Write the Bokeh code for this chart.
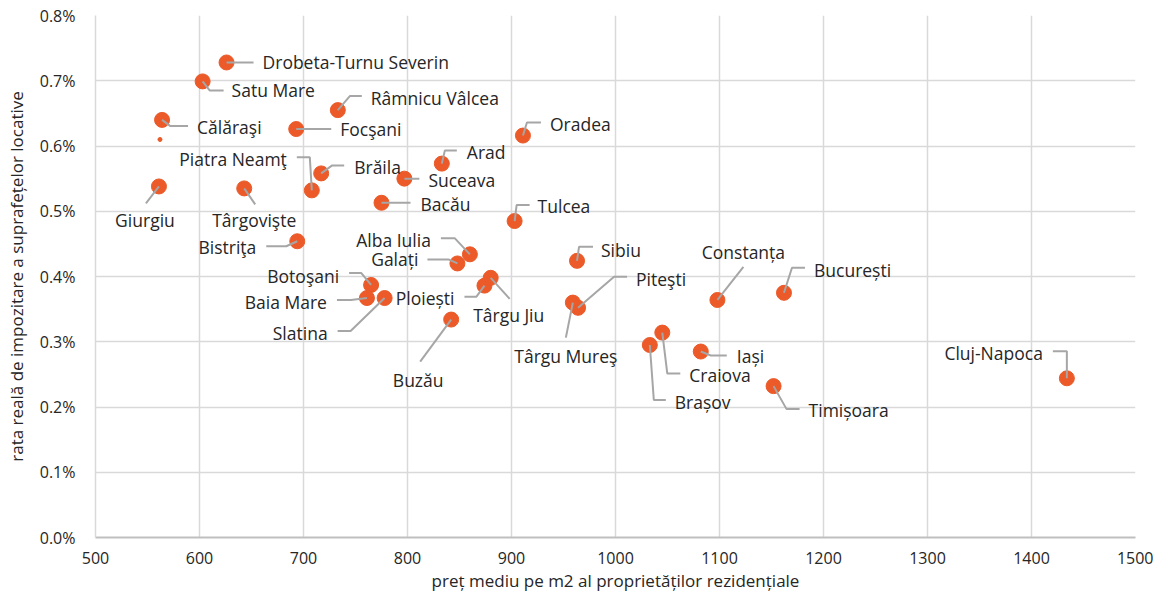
from bokeh.plotting import figure
from bokeh.models import FixedTicker, PrintfTickFormatter, Range1d, ColumnDataSource
from bokeh.core.properties import value
from bokeh.embed import file_html
from bokeh.resources import INLINE

# ---------------- data ----------------
cities = ["Drobeta-Turnu Severin", "Satu Mare", "Călăraşi", "Giurgiu", "Târgovişte",
          "Focşani", "Râmnicu Vâlcea", "Brăila", "Piatra Neamţ", "Bistriţa",
          "Suceava", "Bacău", "Arad", "Oradea", "Tulcea", "Alba Iulia", "Galați",
          "Sibiu", "Botoşani", "Baia Mare", "Slatina", "Ploiești", "Târgu Jiu",
          "Buzău", "Târgu Mureş", "Piteşti", "Constanța", "București", "Craiova",
          "Brașov", "Iași", "Timișoara", "Cluj-Napoca"]
price = [626, 603, 564, 561, 643, 693, 733, 717, 708, 694,
         797, 775, 833, 911, 903, 860, 848, 963, 765, 761, 778, 874, 880,
         842, 959, 964, 1098, 1162, 1045, 1033, 1082, 1152, 1434]
rate = [0.728, 0.699, 0.640, 0.538, 0.535, 0.626, 0.655, 0.558, 0.532, 0.454,
        0.550, 0.513, 0.573, 0.616, 0.485, 0.434, 0.420, 0.424, 0.387, 0.367,
        0.367, 0.386, 0.398, 0.334, 0.360, 0.352, 0.364, 0.375, 0.314, 0.295,
        0.285, 0.232, 0.244]
# small stray marker near Călăraşi
extra_price = [562]
extra_rate = [0.610]

x_ticks = [500, 600, 700, 800, 900, 1000, 1100, 1200, 1300, 1400, 1500]
y_ticks = [0.0, 0.1, 0.2, 0.3, 0.4, 0.5, 0.6, 0.7, 0.8]

# ---------------- label layout (screen px offsets) ----------------
label_layout = [
    (36, 0, "left", [(0, 0), (27, 0)]),
    (29, 9, "left", [(0, 0), (7, 9), (21, 9)]),
    (35, 7, "left", [(0, 0), (8, 6), (26, 6)]),
    (-14, 34, "center", [(0, 0), (-13, 17)]),
    (10, 32, "center", [(0, 0), (11, 16)]),
    (44, 0, "left", [(0, 0), (35, 0)]),
    (33, -12, "left", [(0, 0), (12, -14), (24, -14)]),
    (33, -6, "left", [(0, 0), (11, -8), (23, -8)]),
    (-25, -31, "right", [(0, 0), (-2, -33), (-15, -33)]),
    (-41, 6, "right", [(0, 0), (-11, 5), (-31, 5)]),
    (24, 1, "left", [(0, 0), (15, 0)]),
    (39, 1, "left", [(0, 0), (29, 0)]),
    (25, -12, "left", [(0, 0), (3, -13), (15, -13)]),
    (27, -12, "left", [(0, 0), (4, -13), (18, -13)]),
    (23, -15, "left", [(0, 0), (2, -16), (15, -16)]),
    (-39, -14, "right", [(0, 0), (-15, -16), (-29, -16)]),
    (-39, -4, "right", [(0, 0), (-9, -4), (-30, -4)]),
    (24, -11, "left", [(0, 0), (2, -14), (16, -14)]),
    (-32, -9, "right", [(0, 0), (-10, -12), (-22, -12)]),
    (-40, 4, "right", [(0, 0), (-16, 2), (-30, 2)]),
    (-57, 35, "right", [(0, 0), (-34, 33), (-47, 33)]),
    (-30, 12, "right", [(0, 0), (-8, 11), (-20, 11)]),
    (18, 37, "center", [(0, 0), (19, 21)]),
    (-33, 60, "center", [(0, 0), (-31, 42)]),
    (-7, 53, "center", [(0, 0), (-7, 35)]),
    (58, -29, "left", [(0, 0), (36, -31), (49, -31)]),
    (26, -48, "center", [(0, 0), (26, -33)]),
    (30, -23, "left", [(0, 0), (8, -25), (21, -25)]),
    (27, 42, "left", [(0, 0), (5, 41), (18, 41)]),
    (25, 57, "left", [(0, 0), (4, 55), (16, 55)]),
    (36, 4, "left", [(0, 0), (10, 4), (26, 4)]),
    (35, 24, "left", [(0, 0), (13, 23), (26, 23)]),
    (-24, -25, "right", [(0, 0), (0, -27), (-14, -27)]),
]

FONT = "Open Sans"
TXT = "#262626"
ORANGE = "#EB5A28"
GRID = "#D9D9D9"
LEADER = "#A6A6A6"

X0, X1, Y0, Y1 = 500, 1500, 0.0, 0.8
FW, FH = 1040, 522  # approximate frame size in px
ux = (X1 - X0) / FW
uy = (Y1 - Y0) / FH

p = figure(width=1153, height=594, output_backend="svg", toolbar_location=None,
           x_range=Range1d(X0, X1), y_range=Range1d(Y0, Y1),
           min_border_left=95, min_border_right=18, min_border_top=15,
           min_border_bottom=0)
p.outline_line_color = None
p.background_fill_color = "white"
p.border_fill_color = "white"

for ax in (p.xaxis[0], p.yaxis[0]):
    ax.major_tick_line_color = None
    ax.minor_tick_line_color = None
    ax.major_label_text_font = FONT
    ax.major_label_text_font_size = "16px"
    ax.major_label_text_color = TXT
    ax.axis_label_text_font = FONT
    ax.axis_label_text_font_size = "17px"
    ax.axis_label_text_font_style = "normal"
    ax.axis_label_text_color = TXT

p.xaxis.ticker = FixedTicker(ticks=x_ticks)
p.yaxis.ticker = FixedTicker(ticks=y_ticks)
p.yaxis.formatter = PrintfTickFormatter(format="%.1f%%")
p.xaxis.axis_label = "preț mediu pe m2 al proprietăților rezidențiale"
p.yaxis.axis_label = "rata reală de impozitare a suprafețelor locative"
p.xaxis.major_label_standoff = 8
p.yaxis.major_label_standoff = 14
p.xaxis.axis_label_standoff = 2
p.yaxis.axis_label_standoff = 9
p.xaxis.axis_line_color = "#BFBFBF"
p.xaxis.axis_line_width = 2
p.yaxis.axis_line_color = GRID
p.yaxis.axis_line_width = 1.5

p.xgrid.ticker = FixedTicker(ticks=x_ticks)
p.ygrid.ticker = FixedTicker(ticks=y_ticks)
p.grid.grid_line_color = GRID
p.grid.grid_line_width = 1.5

# markers
src = ColumnDataSource(dict(x=price, y=rate, name=cities))
p.scatter("x", "y", source=src, size=15, fill_color=ORANGE, line_color=ORANGE)
p.scatter(extra_price, extra_rate, size=4, fill_color=ORANGE, line_color=ORANGE)

# leader lines (drawn over markers, as in the reference)
xs, ys = [], []
for px_, py_, lay in zip(price, rate, label_layout):
    path = lay[3]
    xs.append([px_ + dx * ux for dx, dy in path])
    ys.append([py_ - dy * uy for dx, dy in path])
p.multi_line(xs, ys, line_color=LEADER, line_width=2)

# labels
for align in ("left", "right", "center"):
    idx = [i for i, l in enumerate(label_layout) if l[2] == align]
    s = ColumnDataSource(dict(
        x=[price[i] for i in idx], y=[rate[i] for i in idx],
        t=[cities[i] for i in idx],
        xo=[label_layout[i][0] for i in idx], yo=[label_layout[i][1] for i in idx]))
    p.text("x", "y", text="t", x_offset="xo", y_offset="yo", source=s,
           text_align=align, text_baseline="middle",
           text_font=value(FONT), text_font_size="17.5px", text_color=TXT)

open("out.html", "w").write(file_html(p, INLINE))
